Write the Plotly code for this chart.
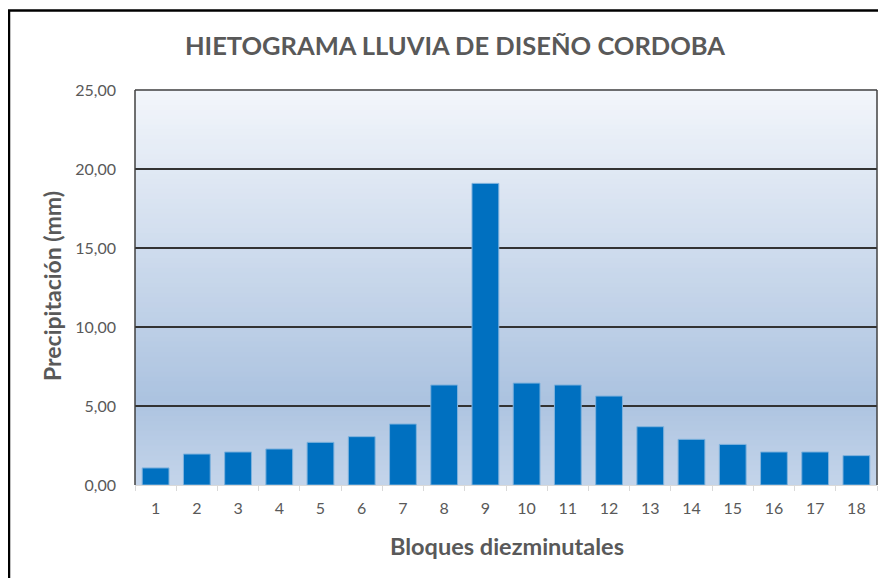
import plotly.graph_objects as go

bloques = list(range(1, 19))
precipitacion = [1.08, 1.96, 2.09, 2.28, 2.70, 3.06, 3.86, 6.33, 19.09,
                 6.45, 6.33, 5.63, 3.69, 2.89, 2.57, 2.09, 2.09, 1.86]
y_ticks = [0, 5, 10, 15, 20, 25]
y_tick_labels = ["0,00", "5,00", "10,00", "15,00", "20,00", "25,00"]

FONT = "Lato"
GRAY = "#595959"
W, H = 878, 570
L, R, T, B = 127, 9, 82, 93
PW, PH = W - L - R, H - T - B

fig = go.Figure()
fig.add_trace(go.Bar(
    x=bloques, y=precipitacion, width=0.65,
    marker=dict(color="#0070c0", line=dict(color="#7fb2dd", width=1)),
))

shapes = []
def lerp(c1, c2, t):
    return tuple(round(a + (b - a) * t) for a, b in zip(c1, c2))
top = (243, 246, 251)
mid = (172, 195, 224)
bot = (196, 212, 234)
N = 80
for i in range(N):
    y0 = i / N
    y1 = (i + 1) / N
    yc = (y0 + y1) / 2
    kmid = 0.22
    if yc >= kmid:
        c = lerp(mid, top, (yc - kmid) / (1 - kmid))
    else:
        c = lerp(bot, mid, yc / kmid)
    shapes.append(dict(type="rect", xref="x domain", yref="y domain",
                       x0=0, x1=1, y0=y0, y1=y1 + 0.002, layer="below",
                       line=dict(width=0), fillcolor="rgb(%d,%d,%d)" % c))
for (x0, y0, x1, y1) in [(0, 0, 0, 1), (0, 1, 1, 1), (1, 0, 1, 1)]:
    shapes.append(dict(type="line", xref="x domain", yref="y domain",
                       x0=x0, y0=y0, x1=x1, y1=y1,
                       line=dict(color="#404040", width=1.5)))
# outer chart border
shapes.append(dict(type="rect", xref="paper", yref="paper",
                   x0=(1 - L) / PW, x1=(W + 20 - L) / PW,
                   y0=(H - B - (H + 20)) / PH, y1=(PH + T - 2.5) / PH,
                   line=dict(color="black", width=2.5)))

fig.update_layout(
    width=W, height=H,
    margin=dict(l=L, r=R, t=T, b=B),
    paper_bgcolor="white", plot_bgcolor="rgba(0,0,0,0)",
    showlegend=False,
    font=dict(family=FONT, color=GRAY, size=16),
    title=dict(text="<b>HIETOGRAMA LLUVIA DE DISEÑO CORDOBA</b>",
               x=447 / W, xanchor="center", y=1 - 38 / H, yanchor="middle",
               font=dict(family=FONT, size=25.5, color=GRAY)),
    shapes=shapes,
    xaxis=dict(range=[0.5, 18.5], tickmode="array", tickvals=bloques,
               ticktext=[str(b) for b in bloques], ticks="", showgrid=False,
               showline=True, linecolor="#d9d9d9", linewidth=1, zeroline=False,
               minor=dict(tick0=0.5, dtick=1, ticks="outside", ticklen=5,
                          tickcolor="#d9d9d9", showgrid=False),
               ticklabelstandoff=9,
               tickfont=dict(size=16, color=GRAY)),
    yaxis=dict(range=[0, 25], tickmode="array", tickvals=y_ticks,
               ticktext=y_tick_labels, showgrid=True, gridcolor="#333333",
               gridwidth=1.5, zeroline=False, ticks="", ticklabelstandoff=18,
               tickfont=dict(size=16, color=GRAY)),
    annotations=[
        dict(text="<b>Precipitación (mm)</b>", xref="paper", yref="paper",
             x=(44 - L) / PW, y=(H - B - 278) / PH, textangle=-90, showarrow=False,
             xanchor="center", yanchor="middle",
             font=dict(family=FONT, size=23, color=GRAY)),
        dict(text="<b>Bloques diezminutales</b>", xref="paper", yref="paper",
             x=(499 - L) / PW, y=(H - B - 538) / PH, showarrow=False,
             xanchor="center", yanchor="middle",
             font=dict(family=FONT, size=23.5, color=GRAY)),
    ],
)

fig.write_html("out.html")
